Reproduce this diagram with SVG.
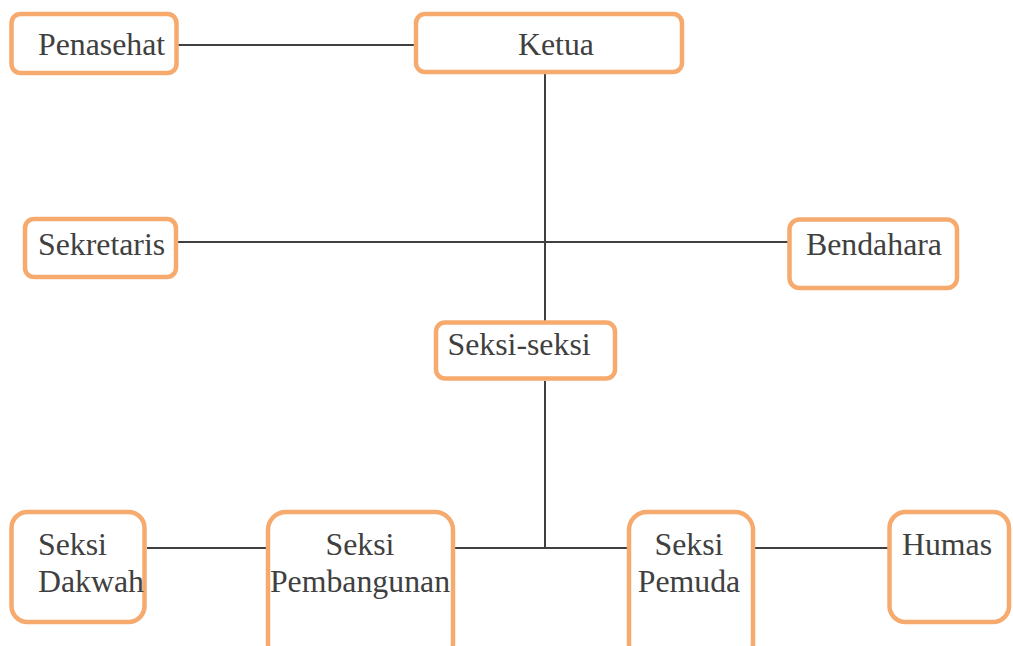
<svg xmlns="http://www.w3.org/2000/svg" width="1013" height="646" viewBox="0 0 1013 646">
<style>
.box{fill:#fff;stroke:#F6AA6E;stroke-width:4.5}
.t{font-size:31.8px;fill:#404040}
.c{stroke:#404040;stroke-width:2;fill:none}
</style>
<rect width="1013" height="646" fill="#fff"/>
<g id="connectors">
<line class="c" x1="178" y1="45" x2="414" y2="45"/>
<line class="c" x1="545" y1="74" x2="545" y2="321"/>
<line class="c" x1="178" y1="242" x2="788" y2="242"/>
<line class="c" x1="545" y1="381" x2="545" y2="548"/>
<line class="c" x1="455" y1="548" x2="627" y2="548"/>
<line class="c" x1="147" y1="548" x2="266" y2="548"/>
<line class="c" x1="755" y1="548" x2="888" y2="548"/>
</g>
<g font-family="'Liberation Serif', 'Times New Roman', 'DejaVu Serif', serif">
<g id="penasehat"><rect class="box" x="11.5" y="14" width="165" height="59" rx="9"/><text class="t" x="38" y="55">Penasehat</text></g>
<g id="ketua"><rect class="box" x="416" y="14" width="266" height="58" rx="9"/><text class="t" x="518" y="55">Ketua</text></g>
<g id="sekretaris"><rect class="box" x="25" y="219" width="151" height="58" rx="9"/><text class="t" x="38" y="255">Sekretaris</text></g>
<g id="bendahara"><rect class="box" x="789.5" y="219.5" width="167.5" height="68.5" rx="10"/><text class="t" x="806" y="255">Bendahara</text></g>
<g id="seksi-seksi"><rect class="box" x="436" y="322.5" width="179" height="56" rx="9"/><text class="t" x="447.5" y="355">Seksi-seksi</text></g>
<g id="seksi-dakwah"><rect class="box" x="11.5" y="512" width="133" height="110" rx="16"/><text class="t" x="38" y="555">Seksi</text><text class="t" x="38" y="592">Dakwah</text></g>
<g id="seksi-pembangunan"><rect class="box" x="268" y="512" width="185" height="150" rx="18"/><text class="t" x="360" y="555" text-anchor="middle">Seksi</text><text class="t" x="360" y="592" text-anchor="middle">Pembangunan</text></g>
<g id="seksi-pemuda"><rect class="box" x="629" y="512" width="124" height="150" rx="18"/><text class="t" x="689" y="555" text-anchor="middle">Seksi</text><text class="t" x="689" y="592" text-anchor="middle">Pemuda</text></g>
<g id="humas"><rect class="box" x="889.5" y="512" width="119.5" height="110" rx="16"/><text class="t" x="902" y="555">Humas</text></g>
</g>
</svg>
